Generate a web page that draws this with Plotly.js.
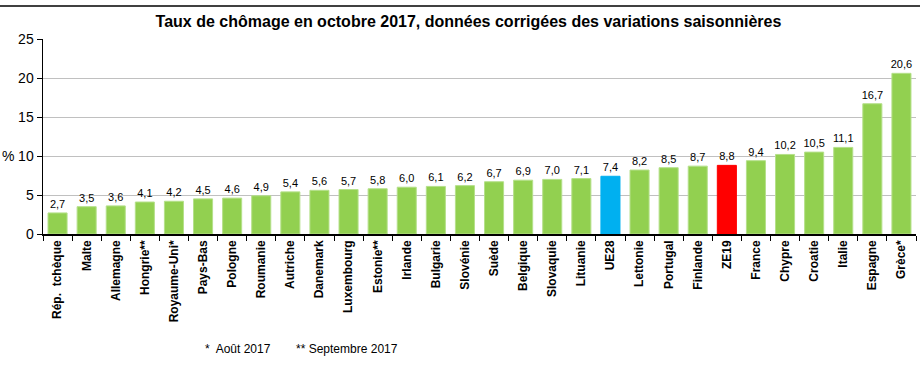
<!DOCTYPE html>
<html>
<head>
<meta charset="utf-8">
<script src="https://cdn.plot.ly/plotly-3.0.1.min.js"></script>
<style>html,body{margin:0;padding:0;background:#fff;}#chart{width:924px;height:369px;}</style>
</head>
<body>
<div id="chart"></div>
<script>
const categories = ["Rép.\u00a0\u00a0tchèque","Malte","Allemagne","Hongrie**","Royaume-Uni*","Pays-Bas","Pologne","Roumanie","Autriche","Danemark","Luxembourg","Estonie**","Irlande","Bulgarie","Slovénie","Suède","Belgique","Slovaquie","Lituanie","UE28","Lettonie","Portugal","Finlande","ZE19","France","Chypre","Croatie","Italie","Espagne","Grèce*"];
const values = [2.7,3.5,3.6,4.1,4.2,4.5,4.6,4.9,5.4,5.6,5.7,5.8,6.0,6.1,6.2,6.7,6.9,7.0,7.1,7.4,8.2,8.5,8.7,8.8,9.4,10.2,10.5,11.1,16.7,20.6];
const yTicks = [0,5,10,15,20,25];

const colors = categories.map(c => c === "UE28" ? "#00b0f0" : (c === "ZE19" ? "#ff0000" : "#92d050"));
const lineColors = categories.map(c => c === "UE28" ? "#00b0f0" : (c === "ZE19" ? "#ff0000" : "#b5e08a"));

const font = "Liberation Sans, Arial, sans-serif";
const trace = {
  type: "bar",
  x: categories,
  y: values,
  marker: {color: colors, line: {color: lineColors, width: 1}},
  texttemplate: "%{y:.1f}",
  textposition: "outside",
  constraintext: "none",
  textfont: {family: font, size: 11, color: "#000"},
  cliponaxis: false,
  hoverinfo: "x+y"
};

const layout = {
  width: 924, height: 369,
  margin: {l: 43, r: 8, t: 39, b: 135},
  paper_bgcolor: "#fff", plot_bgcolor: "#fff",
  separators: ", ",
  bargap: 0.345,
  showlegend: false,
  font: {family: font, color: "#000"},
  title: {text: "<b>Taux de chômage en octobre 2017, données corrigées des variations saisonnières</b>",
          font: {family: font, size: 16, color: "#000"}, x: 0.507, xanchor: "center", y: 0.943, yanchor: "middle"},
  xaxis: {
    type: "category",
    tickangle: -90,
    tickfont: {family: font, size: 12, color: "#000", weight: "bold"},
    showline: true, linecolor: "#000", linewidth: 1.5,
    ticks: "outside", tickson: "boundaries", ticklen: 5, tickcolor: "#000", tickwidth: 1,
    showgrid: false, automargin: false
  },
  yaxis: {
    range: [0, 25],
    tickvals: yTicks,
    tickfont: {family: font, size: 14, color: "#000"},
    showline: true, linecolor: "#000", linewidth: 1.5,
    ticks: "outside", ticklen: 5, tickcolor: "#000",
    showgrid: true, gridcolor: "#c0c0c0", gridwidth: 1,
    zeroline: false, automargin: false
  },
  annotations: [
    {text: "%", xref: "paper", yref: "paper", x: -43/873, y: 10/25, xanchor: "left", yanchor: "middle", showarrow: false, font: {family: font, size: 14, color: "#000"}},
    {text: "*  Août 2017", xref: "paper", yref: "paper", x: (203-43)/873, y: -(349-234)/195, xanchor: "left", yanchor: "middle", showarrow: false, font: {family: font, size: 12, color: "#000"}},
    {text: "** Septembre 2017", xref: "paper", yref: "paper", x: (294-43)/873, y: -(349-234)/195, xanchor: "left", yanchor: "middle", showarrow: false, font: {family: font, size: 12, color: "#000"}}
  ],
  shapes: [
    {type: "line", xref: "paper", yref: "paper", x0: -43/873, x1: (920-43)/873, y0: (234-6)/195, y1: (234-6)/195, line: {color: "#000", width: 1.5}}
  ]
};

Plotly.newPlot("chart", [trace], layout, {displayModeBar: false, staticPlot: true});
</script>
</body>
</html>
